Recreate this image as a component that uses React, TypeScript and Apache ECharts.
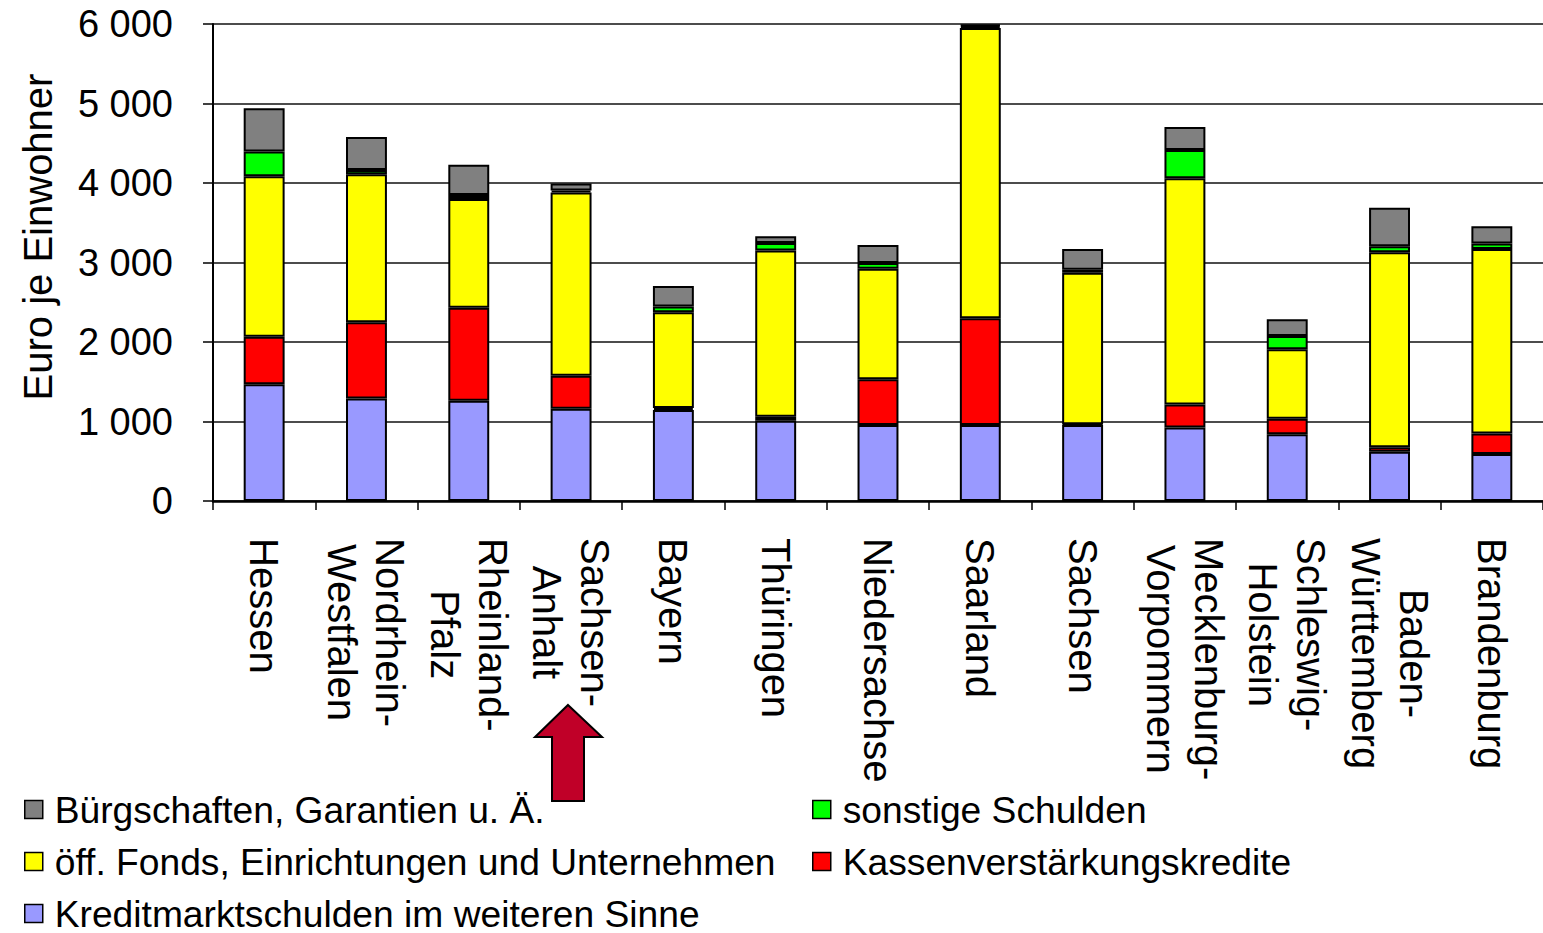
import React, { useEffect, useRef } from "react";
import * as echarts from "echarts";

const categories = [
  "Hessen",
  "Nordrhein-\nWestfalen",
  "Rheinland-\nPfalz",
  "Sachsen-\nAnhalt",
  "Bayern",
  "Thüringen",
  "Niedersachse",
  "Saarland",
  "Sachsen",
  "Mecklenburg-\nVorpommern",
  "Schleswig-\nHolstein",
  "Baden-\nWürttemberg",
  "Brandenburg",
];

const kreditmarkt = [1470, 1290, 1260, 1160, 1145, 1010, 955, 955, 955, 925, 840, 620, 590];
const kassen = [595, 960, 1170, 415, 25, 50, 575, 1345, 10, 290, 195, 55, 260];
const fonds = [2020, 1860, 1370, 2305, 1205, 2090, 1390, 3650, 1905, 2845, 875, 2455, 2320];
const sonstige = [310, 55, 50, 25, 70, 95, 75, 25, 40, 355, 165, 75, 70];
const buergschaften = [545, 415, 380, 90, 260, 85, 225, 20, 260, 290, 210, 485, 215];

const yTicks = [0, 1000, 2000, 3000, 4000, 5000, 6000];

const names = {
  buerg: "Bürgschaften, Garantien u. Ä.",
  sonst: "sonstige Schulden",
  fonds: "öff. Fonds, Einrichtungen und Unternehmen",
  kassen: "Kassenverstärkungskredite",
  kredit: "Kreditmarktschulden im weiteren Sinne",
};

const FONT = "'Liberation Sans', Arial, Helvetica, sans-serif";

export default function App() {
  const ref = useRef<HTMLDivElement>(null);

  useEffect(() => {
    if (!ref.current) return;
    const chart = echarts.init(ref.current, null, { renderer: "svg" });

    const mkSeries = (name: string, data: number[], color: string) => ({
      name,
      type: "bar",
      stack: "total",
      data,
      barWidth: "40%",
      itemStyle: { color, borderColor: "#000", borderWidth: 2 },
      emphasis: { disabled: true },
    });

    const legendCommon = {
      orient: "vertical",
      padding: 0,
      height: 170,
      itemWidth: 18,
      itemHeight: 18,
      itemGap: 15,
      icon: "rect",
      selectedMode: false,
      itemStyle: { borderColor: "#000", borderWidth: 1.5 },
      textStyle: {
        fontFamily: FONT,
        fontSize: 37.2,
        lineHeight: 36,
        color: "#000",
        padding: [0, 0, 0, 7],
      },
    };

    chart.setOption({
      animation: false,
      backgroundColor: "#fff",
      grid: { left: 213, top: 24, width: 1345, height: 477, containLabel: false },
      legend: [
        {
          ...legendCommon,
          left: 24,
          top: 791,
          data: [names.buerg, names.fonds, names.kredit],
        },
        {
          ...legendCommon,
          left: 812,
          top: 791,
          data: [names.sonst, names.kassen],
        },
      ],
      xAxis: {
        type: "category",
        data: categories,
        boundaryGap: true,
        axisLine: { lineStyle: { color: "#000", width: 2.5 } },
        axisTick: { show: true, interval: 0, length: 9, lineStyle: { color: "#000", width: 1.5 } },
        axisLabel: {
          interval: 0,
          rotate: -90,
          margin: 37,
          color: "#000",
          fontFamily: FONT,
          fontSize: 40,
          lineHeight: 48,
          formatter: (v: string) =>
            v
              .split("\n")
              .map((s) => `{c|${s}}`)
              .join("\n"),
          rich: {
            c: { align: "center", fontFamily: FONT, fontSize: 40, lineHeight: 48, color: "#000" },
          },
        },
      },
      yAxis: {
        type: "value",
        min: yTicks[0],
        max: yTicks[yTicks.length - 1],
        interval: 1000,
        axisLine: { show: true, lineStyle: { color: "#000", width: 2 } },
        axisTick: { show: true, length: 10, lineStyle: { color: "#000", width: 1.5 } },
        splitLine: { show: true, lineStyle: { color: "#111", width: 1.5 } },
        axisLabel: {
          margin: 40,
          color: "#000",
          fontFamily: FONT,
          fontSize: 38,
          formatter: (v: number) => String(v).replace(/\B(?=(\d{3})+(?!\d))/g, " "),
        },
      },
      series: [
        mkSeries(names.kredit, kreditmarkt, "#9999FF"),
        mkSeries(names.kassen, kassen, "#FF0000"),
        mkSeries(names.fonds, fonds, "#FFFF00"),
        mkSeries(names.sonst, sonstige, "#00FF00"),
        mkSeries(names.buerg, buergschaften, "#808080"),
      ],
      graphic: [
        {
          type: "text",
          x: 38,
          y: 237,
          rotation: Math.PI / 2,
          style: {
            text: "Euro je Einwohner",
            font: `40px ${FONT}`,
            fill: "#000",
            align: "center",
            verticalAlign: "middle",
          },
        },
        {
          type: "polygon",
          shape: {
            points: [
              [568, 705],
              [602, 737],
              [584, 737],
              [584, 801],
              [552, 801],
              [552, 737],
              [535, 737],
            ],
          },
          style: { fill: "#C00028", stroke: "#000", lineWidth: 2 },
          z: 100,
        },
      ],
    });

    return () => chart.dispose();
  }, []);

  return (
    <div
      ref={ref}
      style={{ position: "fixed", left: 0, top: 0, width: 1543, height: 933, background: "#fff" }}
    />
  );
}
